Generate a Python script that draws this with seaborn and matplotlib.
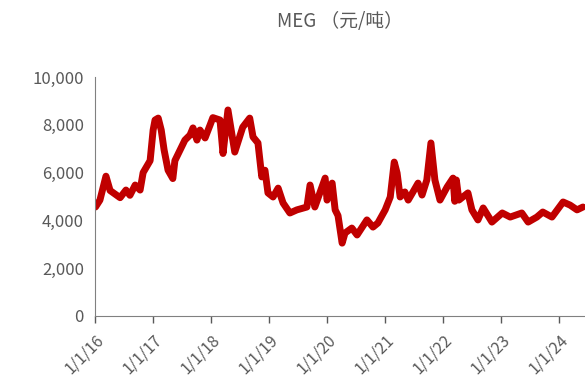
import matplotlib
matplotlib.use("Agg")
import matplotlib.pyplot as plt
from matplotlib.ticker import FuncFormatter
import pandas as pd
import seaborn as sns

# MEG price
dates = [
    "2016-01-04", "2016-02-01", "2016-03-10", "2016-04-05", "2016-06-07",
    "2016-07-14", "2016-08-08", "2016-09-10", "2016-10-11", "2016-10-30",
    "2016-12-13", "2017-01-01", "2017-01-13", "2017-02-02", "2017-02-21",
    "2017-03-11", "2017-04-05", "2017-05-05", "2017-05-18", "2017-06-20",
    "2017-07-20", "2017-08-21", "2017-09-09", "2017-10-04", "2017-10-23",
    "2017-11-24", "2017-12-26", "2018-01-12", "2018-02-26", "2018-03-17",
    "2018-04-17", "2018-05-30", "2018-07-19", "2018-09-01", "2018-09-22",
    "2018-10-23", "2018-11-16", "2018-12-06", "2018-12-25", "2019-01-26",
    "2019-02-27", "2019-03-30", "2019-05-12", "2019-06-25", "2019-08-27",
    "2019-09-16", "2019-10-16", "2019-12-20", "2020-01-01", "2020-02-02",
    "2020-02-21", "2020-03-10", "2020-04-05", "2020-04-23", "2020-06-05",
    "2020-07-08", "2020-09-08", "2020-10-16", "2020-11-16", "2021-01-01",
    "2021-02-02", "2021-02-27", "2021-03-17", "2021-04-05", "2021-05-05",
    "2021-05-26", "2021-06-25", "2021-07-27", "2021-08-21", "2021-09-20",
    "2021-10-16", "2021-11-10", "2021-12-12", "2022-01-26", "2022-03-04",
    "2022-03-15", "2022-03-25", "2022-04-10", "2022-06-06", "2022-07-01",
    "2022-08-08", "2022-09-10", "2022-11-04", "2023-01-08", "2023-02-27",
    "2023-05-11", "2023-06-20", "2023-08-14", "2023-09-20", "2023-11-17",
    "2024-01-26", "2024-03-10", "2024-04-23", "2024-05-30",
]
prices = [
    4560, 4850, 5850, 5250, 4950,
    5270, 5050, 5480, 5270, 6000,
    6500, 7780, 8200, 8280, 7780,
    6950, 6100, 5750, 6500, 6950,
    7360, 7570, 7870, 7360, 7780,
    7450, 8000, 8300, 8200, 6800,
    8620, 6860, 7900, 8280, 7490,
    7240, 5820, 6100, 5150, 4980,
    5350, 4730, 4310, 4440, 4560,
    5480, 4560, 5770, 4850, 5560,
    4440, 4200, 3050, 3470, 3680,
    3390, 4020, 3720, 3890, 4440,
    4980, 6440, 5980, 4980, 5190,
    4850, 5190, 5560, 5060, 5690,
    7240, 5690, 4850, 5400, 5770,
    4800, 5690, 4850, 5150, 4440,
    4020, 4520, 3930, 4310, 4140,
    4310, 3930, 4140, 4350, 4140,
    4770, 4640, 4440, 4560,
]
tick_years = list(range(2016, 2025))
y_ticks = [0, 2000, 4000, 6000, 8000, 10000]

df = pd.DataFrame({"date": pd.to_datetime(dates), "price": prices})

sns.set_style("white")
plt.rcParams["font.family"] = ["Noto Sans CJK SC", "DejaVu Sans"]

fig = plt.figure(figsize=(5.85, 3.83), dpi=100)
ax = fig.add_axes([95 / 585, 1 - 316 / 383, 1 - 95 / 585, (316 - 77) / 383])

sns.lineplot(data=df, x="date", y="price", ax=ax, color="#C00000",
             linewidth=5, solid_joinstyle="round", solid_capstyle="round")

grey = "#595959"
ax.set_xlim(pd.Timestamp("2016-01-01"), pd.Timestamp("2024-06-12"))
ax.set_ylim(0, 10000)
ax.set_yticks(y_ticks)
ax.yaxis.set_major_formatter(FuncFormatter(lambda v, p: f"{int(v):,}"))
ax.set_xticks([pd.Timestamp(f"{y}-01-01") for y in tick_years])
ax.set_xticklabels([f"1/1/{y % 100}" for y in tick_years], rotation=45,
                   ha="right", rotation_mode="anchor")
ax.tick_params(axis="x", colors=grey, labelsize=11.5, length=5, width=1,
               direction="out", bottom=True, pad=6)
ax.tick_params(axis="y", colors=grey, labelsize=12, length=0, pad=8)
for lab in ax.get_xticklabels() + ax.get_yticklabels():
    lab.set_color(grey)

sns.despine(ax=ax, top=True, right=True)
ax.spines["left"].set_color("#808080")
ax.spines["bottom"].set_color("#808080")
ax.set_xlabel("")
ax.set_ylabel("")

fig.text(340 / 585, 1 - 22 / 383, "MEG （元/吨）", ha="center", va="center",
         fontsize=13.5, color=grey)

fig.savefig("out.png", dpi=100)
